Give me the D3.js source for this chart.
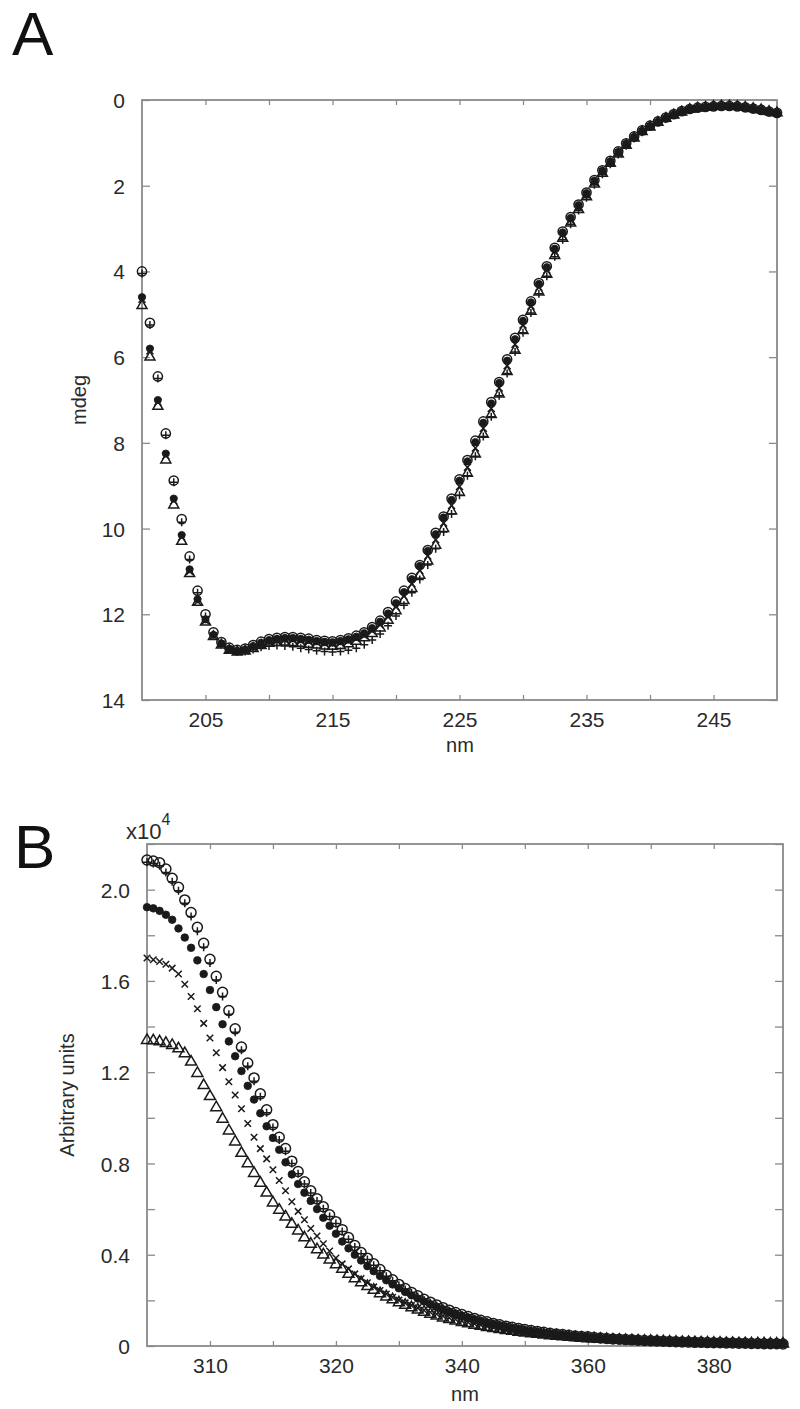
<!DOCTYPE html>
<html>
<head>
<meta charset="utf-8">
<script src="https://cdn.jsdelivr.net/npm/d3@7"></script>
<style>
  body { margin: 0; background: #fff; }
  svg { display: block; font-family: "Liberation Sans", Arial, Helvetica, sans-serif; }
</style>
</head>
<body>
<svg id="chart" width="800" height="1409"></svg>
<script>
// ---- Panel A: CD spectra (mdeg, axis drawn downwards) ----
const wlA = [200, 200.625, 201.25, 201.875, 202.5, 203.125, 203.75, 204.375, 205, 205.625,
  206.25, 206.875, 207.5, 208.125, 208.75, 209.375, 210, 210.625, 211.25, 211.875,
  212.5, 213.125, 213.75, 214.375, 215, 215.625, 216.25, 216.875, 217.5, 218.125,
  218.75, 219.375, 220, 220.625, 221.25, 221.875, 222.5, 223.125, 223.75, 224.375,
  225, 225.625, 226.25, 226.875, 227.5, 228.125, 228.75, 229.375, 230, 230.625,
  231.25, 231.875, 232.5, 233.125, 233.75, 234.375, 235, 235.625, 236.25, 236.875,
  237.5, 238.125, 238.75, 239.375, 240, 240.625, 241.25, 241.875, 242.5, 243.125,
  243.75, 244.375, 245, 245.625, 246.25, 246.875, 247.5, 248.125, 248.75, 249.375, 250];

const cdCircle = [4.0, 5.2, 6.45, 7.78, 8.88, 9.78, 10.65, 11.45, 12.0, 12.42,
  12.65, 12.78, 12.83, 12.8, 12.72, 12.64, 12.58, 12.55, 12.53, 12.53,
  12.55, 12.57, 12.6, 12.62, 12.63, 12.6, 12.56, 12.5, 12.42, 12.3,
  12.15, 11.95, 11.7, 11.45, 11.15, 10.85, 10.5, 10.1, 9.72, 9.3,
  8.85, 8.4, 7.95, 7.5, 7.05, 6.58, 6.05, 5.55, 5.13, 4.7,
  4.27, 3.88, 3.45, 3.07, 2.73, 2.44, 2.16, 1.87, 1.64, 1.42,
  1.2, 1.01, 0.85, 0.71, 0.6, 0.5, 0.41, 0.33, 0.26, 0.21,
  0.18, 0.16, 0.15, 0.14, 0.14, 0.15, 0.17, 0.2, 0.23, 0.27, 0.3];
const cdPlus = [4.05, 5.25, 6.5, 7.82, 8.92, 9.85, 10.72, 11.5, 12.05, 12.47,
  12.7, 12.82, 12.88, 12.87, 12.82, 12.77, 12.74, 12.73, 12.74, 12.76,
  12.79, 12.82, 12.85, 12.87, 12.88, 12.87, 12.84, 12.79, 12.71, 12.6,
  12.46, 12.27, 12.04, 11.79, 11.5, 11.19, 10.85, 10.47, 10.08, 9.66,
  9.22, 8.77, 8.31, 7.85, 7.39, 6.9, 6.38, 5.88, 5.43, 4.97,
  4.52, 4.11, 3.66, 3.26, 2.9, 2.58, 2.28, 1.98, 1.73, 1.5,
  1.27, 1.07, 0.9, 0.75, 0.63, 0.52, 0.43, 0.34, 0.27, 0.22,
  0.19, 0.17, 0.16, 0.15, 0.15, 0.16, 0.18, 0.21, 0.24, 0.28, 0.31];
const cdFilled = [4.6, 5.8, 7.0, 8.25, 9.3, 10.15, 10.95, 11.65, 12.12, 12.48,
  12.68, 12.8, 12.85, 12.82, 12.74, 12.66, 12.6, 12.57, 12.55, 12.55,
  12.57, 12.59, 12.62, 12.64, 12.65, 12.62, 12.58, 12.52, 12.44, 12.32,
  12.17, 11.98, 11.74, 11.48, 11.18, 10.87, 10.52, 10.13, 9.74, 9.33,
  8.88, 8.43, 7.98, 7.53, 7.08, 6.6, 6.08, 5.58, 5.15, 4.72,
  4.29, 3.9, 3.47, 3.09, 2.75, 2.45, 2.17, 1.88, 1.65, 1.43,
  1.21, 1.02, 0.86, 0.72, 0.61, 0.51, 0.42, 0.34, 0.27, 0.22,
  0.19, 0.17, 0.16, 0.15, 0.15, 0.16, 0.18, 0.21, 0.24, 0.28, 0.31];
const cdCross = [4.65, 5.85, 7.05, 8.3, 9.35, 10.2, 11.0, 11.7, 12.15, 12.5,
  12.7, 12.82, 12.87, 12.85, 12.78, 12.7, 12.65, 12.62, 12.6, 12.6,
  12.62, 12.64, 12.66, 12.68, 12.69, 12.67, 12.63, 12.57, 12.5, 12.39,
  12.25, 12.06, 11.83, 11.58, 11.29, 10.98, 10.64, 10.26, 9.87, 9.46,
  9.02, 8.57, 8.12, 7.66, 7.2, 6.72, 6.2, 5.7, 5.25, 4.81,
  4.37, 3.97, 3.54, 3.15, 2.8, 2.5, 2.21, 1.92, 1.68, 1.46,
  1.24, 1.04, 0.88, 0.73, 0.62, 0.52, 0.43, 0.35, 0.28, 0.22,
  0.19, 0.17, 0.16, 0.15, 0.15, 0.16, 0.18, 0.21, 0.24, 0.28, 0.31];
const cdTriangle = [4.8, 6.0, 7.15, 8.4, 9.45, 10.3, 11.05, 11.72, 12.18, 12.52,
  12.72, 12.84, 12.88, 12.86, 12.8, 12.73, 12.68, 12.66, 12.65, 12.66,
  12.68, 12.7, 12.72, 12.74, 12.75, 12.73, 12.69, 12.63, 12.55, 12.45,
  12.32, 12.14, 11.92, 11.68, 11.4, 11.09, 10.76, 10.39, 10.0, 9.59,
  9.16, 8.71, 8.26, 7.8, 7.34, 6.86, 6.34, 5.84, 5.38, 4.93,
  4.48, 4.07, 3.63, 3.23, 2.87, 2.56, 2.26, 1.96, 1.71, 1.48,
  1.26, 1.06, 0.89, 0.74, 0.63, 0.52, 0.43, 0.35, 0.28, 0.22,
  0.19, 0.17, 0.15, 0.14, 0.14, 0.15, 0.17, 0.2, 0.23, 0.27, 0.3];

const ticksXA = [205, 210, 215, 220, 225, 230, 235, 240, 245];
const labelsXA = [205, 215, 225, 235, 245];
const ticksYA = [0, 2, 4, 6, 8, 10, 12, 14];

// ---- Panel B: emission spectra (x10^4, arbitrary units) ----
const wlB = [305, 305.5, 306, 306.5, 307, 307.5, 308, 308.5, 309, 309.5,
  310, 310.5, 311, 311.5, 312, 312.5, 313, 313.5, 314, 314.5,
  315, 315.5, 316, 316.5, 317, 317.5, 318, 318.5, 319, 319.5, 320,
  321, 322, 323, 324, 325, 326, 327, 328, 329, 330,
  331, 332, 333, 334, 335, 336, 337, 338, 339, 340,
  341, 342, 343, 344, 345, 346, 347, 348, 349, 350,
  351, 352, 353, 354, 355, 356, 357, 358, 359, 360,
  361, 362, 363, 364, 365, 366, 367, 368, 369, 370,
  371, 372, 373, 374, 375, 376, 377, 378, 379, 380,
  381, 382, 383, 384, 385, 386, 387, 388, 389, 390, 391];

const flCircle = [2.13, 2.125, 2.118, 2.09, 2.05, 2.01, 1.955, 1.9, 1.835, 1.765,
  1.695, 1.62, 1.55, 1.47, 1.39, 1.31, 1.24, 1.175, 1.105, 1.035,
  0.97, 0.915, 0.865, 0.81, 0.765, 0.72, 0.68, 0.645, 0.61, 0.575,
  0.545, 0.51, 0.475, 0.44, 0.41, 0.385, 0.36, 0.335, 0.31, 0.29,
  0.27, 0.252, 0.235, 0.22, 0.205, 0.192, 0.18, 0.168, 0.157, 0.147,
  0.138, 0.129, 0.121, 0.113, 0.106, 0.099, 0.093, 0.087, 0.082, 0.077,
  0.072, 0.068, 0.064, 0.06, 0.056, 0.053, 0.05, 0.047, 0.044, 0.042,
  0.04, 0.037, 0.035, 0.033, 0.031, 0.03, 0.028, 0.027, 0.025, 0.024,
  0.023, 0.022, 0.021, 0.02, 0.019, 0.018, 0.017, 0.016, 0.016, 0.015,
  0.014, 0.014, 0.013, 0.013, 0.012, 0.012, 0.011, 0.011, 0.01, 0.01, 0.01, 0.009];
const flPlus = [2.12, 2.115, 2.105, 2.075, 2.035, 1.995, 1.94, 1.882, 1.818, 1.748,
  1.678, 1.604, 1.532, 1.454, 1.375, 1.296, 1.226, 1.16, 1.092, 1.022,
  0.958, 0.903, 0.853, 0.8, 0.755, 0.71, 0.671, 0.636, 0.601, 0.567,
  0.537, 0.502, 0.468, 0.434, 0.404, 0.379, 0.354, 0.33, 0.306, 0.286,
  0.266, 0.248, 0.232, 0.217, 0.202, 0.189, 0.177, 0.166, 0.155, 0.145,
  0.136, 0.127, 0.119, 0.112, 0.105, 0.098, 0.092, 0.086, 0.081, 0.076,
  0.071, 0.067, 0.063, 0.059, 0.055, 0.052, 0.049, 0.046, 0.044, 0.041,
  0.039, 0.037, 0.035, 0.033, 0.031, 0.029, 0.028, 0.026, 0.025, 0.024,
  0.023, 0.022, 0.021, 0.02, 0.019, 0.018, 0.017, 0.016, 0.015, 0.015,
  0.014, 0.013, 0.013, 0.012, 0.012, 0.011, 0.011, 0.01, 0.01, 0.01, 0.009, 0.009];
const flFilled = [1.923, 1.918, 1.907, 1.89, 1.868, 1.83, 1.79, 1.745, 1.69, 1.63,
  1.56, 1.485, 1.41, 1.335, 1.27, 1.205, 1.14, 1.08, 1.02, 0.963,
  0.912, 0.86, 0.805, 0.752, 0.71, 0.672, 0.636, 0.6, 0.562, 0.527,
  0.492, 0.458, 0.428, 0.4, 0.375, 0.35, 0.328, 0.307, 0.288, 0.27,
  0.253, 0.237, 0.222, 0.208, 0.195, 0.183, 0.172, 0.161, 0.151, 0.142,
  0.133, 0.125, 0.117, 0.11, 0.103, 0.097, 0.091, 0.085, 0.08, 0.075,
  0.07, 0.066, 0.062, 0.058, 0.055, 0.052, 0.049, 0.046, 0.043, 0.041,
  0.039, 0.036, 0.034, 0.032, 0.03, 0.029, 0.027, 0.026, 0.025, 0.023,
  0.022, 0.021, 0.02, 0.019, 0.018, 0.017, 0.017, 0.016, 0.015, 0.014,
  0.014, 0.013, 0.012, 0.012, 0.011, 0.011, 0.01, 0.01, 0.01, 0.009, 0.009, 0.009];
const flCross = [1.7, 1.693, 1.685, 1.673, 1.656, 1.63, 1.585, 1.532, 1.478, 1.414,
  1.35, 1.285, 1.22, 1.158, 1.1, 1.04, 0.975, 0.915, 0.865, 0.82,
  0.772, 0.725, 0.68, 0.632, 0.59, 0.553, 0.515, 0.482, 0.448, 0.416,
  0.386, 0.36, 0.338, 0.316, 0.296, 0.277, 0.259, 0.243, 0.228, 0.214,
  0.201, 0.189, 0.178, 0.167, 0.157, 0.148, 0.14, 0.132, 0.124, 0.117,
  0.11, 0.104, 0.098, 0.092, 0.087, 0.082, 0.077, 0.073, 0.069, 0.065,
  0.061, 0.058, 0.055, 0.052, 0.049, 0.046, 0.044, 0.042, 0.04, 0.038,
  0.036, 0.034, 0.032, 0.031, 0.029, 0.028, 0.026, 0.025, 0.024, 0.023,
  0.022, 0.021, 0.02, 0.019, 0.018, 0.017, 0.016, 0.016, 0.015, 0.014,
  0.014, 0.013, 0.013, 0.012, 0.012, 0.011, 0.011, 0.01, 0.01, 0.01, 0.009, 0.009];
const flTriangle = [1.34, 1.338, 1.334, 1.327, 1.318, 1.303, 1.282, 1.245, 1.195, 1.142,
  1.094, 1.045, 0.995, 0.943, 0.895, 0.845, 0.8, 0.757, 0.714, 0.671,
  0.628, 0.596, 0.566, 0.534, 0.505, 0.475, 0.447, 0.423, 0.4, 0.378,
  0.357, 0.337, 0.315, 0.296, 0.278, 0.261, 0.245, 0.23, 0.216, 0.203,
  0.19, 0.179, 0.168, 0.158, 0.149, 0.14, 0.132, 0.124, 0.117, 0.11,
  0.104, 0.098, 0.092, 0.087, 0.082, 0.077, 0.073, 0.069, 0.065, 0.061,
  0.058, 0.055, 0.052, 0.049, 0.046, 0.044, 0.041, 0.039, 0.037, 0.035,
  0.033, 0.032, 0.03, 0.029, 0.027, 0.026, 0.025, 0.024, 0.023, 0.022,
  0.021, 0.02, 0.019, 0.018, 0.017, 0.016, 0.016, 0.015, 0.014, 0.014,
  0.013, 0.013, 0.012, 0.012, 0.011, 0.011, 0.01, 0.01, 0.01, 0.009, 0.009, 0.009];

const ticksXB = [310, 315, 320, 330, 340, 350, 360, 370, 380];
const labelsXB = [310, 320, 340, 360, 380];
const ticksYB = [0, 0.2, 0.4, 0.6, 0.8, 1.0, 1.2, 1.4, 1.6, 1.8, 2.0, 2.2];
const labelsYB = [0, 0.4, 0.8, 1.2, 1.6, 2.0];

const svg = d3.select("#chart");
const ink = "#1a1a1a";
const axisGrey = "#8a8a8a";
const textCol = "#2a2a2a";

// shapes of the markers, drawn around 0,0
function markerPath(shape, s) {
    if (shape === "triangle") {
        const h = s * 0.866;
        return `M0,${-h * 2 / 3}L${s / 2},${h / 3}L${-s / 2},${h / 3}Z`;
    }
    if (shape === "cross") {
        return `M${-s / 2},${-s / 2}L${s / 2},${s / 2}M${-s / 2},${s / 2}L${s / 2},${-s / 2}`;
    }
    return `M${-s / 2},0H${s / 2}M0,${-s / 2}V${s / 2}`; // plus
}

function drawSeries(g, xs, ys, x, y, shape, size) {
    const pts = xs.slice(0, ys.length).map((w, i) => [w, ys[i]]);
    const sel = g.append("g").selectAll("*").data(pts);
    if (shape === "circle" || shape === "filled") {
        sel.enter().append("circle")
            .attr("cx", d => x(d[0]))
            .attr("cy", d => y(d[1]))
            .attr("r", size)
            .attr("fill", shape === "filled" ? ink : "none")
            .attr("stroke", ink)
            .attr("stroke-width", shape === "filled" ? 0.8 : 1.5);
    } else {
        sel.enter().append("path")
            .attr("transform", d => `translate(${x(d[0])},${y(d[1])})`)
            .attr("d", markerPath(shape, size))
            .attr("fill", "none")
            .attr("stroke", ink)
            .attr("stroke-width", 1.5);
    }
}

function frame(g, x, y, opts) {
    const xr = x.range();
    const x0 = xr[0], x1 = xr[xr.length - 1];
    const [yA, yB] = y.range();
    const top = Math.min(yA, yB), bottom = Math.max(yA, yB);

    const fmtX = d => opts.xLabels.includes(d) ? d : "";
    const fmtY = d => opts.yLabels.includes(d) ? opts.yFmt(d) : "";

    g.append("g").attr("transform", `translate(0,${bottom})`)
        .call(d3.axisBottom(x).tickValues(opts.xTicks).tickFormat(fmtX).tickSize(-5).tickPadding(12));
    g.append("g").attr("transform", `translate(0,${top})`)
        .call(d3.axisTop(x).tickValues(opts.xTicks).tickFormat("").tickSize(-5));
    const leftAxis = g.append("g").attr("transform", `translate(${x0},0)`)
        .call(d3.axisLeft(y).tickValues(opts.yTicks).tickFormat(fmtY).tickSize(-8).tickPadding(17));
    g.append("g").attr("transform", `translate(${x1},0)`)
        .call(d3.axisRight(y).tickValues(opts.yTicks).tickFormat("").tickSize(-8));

    g.selectAll(".domain").remove();
    g.selectAll(".tick line").attr("stroke", axisGrey).attr("stroke-width", 1.3);
    g.selectAll(".tick text").attr("fill", textCol).style("font-size", "21px");
    leftAxis.selectAll(".tick text").attr("dy", "0.36em");

    g.append("rect")
        .attr("x", x0).attr("y", top)
        .attr("width", x1 - x0).attr("height", bottom - top)
        .attr("fill", "none")
        .attr("stroke", axisGrey)
        .attr("stroke-width", 1.8);
}

// ---------- Panel A ----------
const xA = d3.scaleLinear().domain([200, 250]).range([142, 777]);
const yA = d3.scaleLinear().domain([0, 14]).range([100, 700]);
const gA = svg.append("g");

frame(gA, xA, yA, {
    xTicks: ticksXA, xLabels: labelsXA,
    yTicks: ticksYA, yLabels: ticksYA, yFmt: d => d
});

const marksA = gA.append("g");
drawSeries(marksA, wlA, cdTriangle, xA, yA, "triangle", 10);
drawSeries(marksA, wlA, cdCross, xA, yA, "cross", 7);
drawSeries(marksA, wlA, cdPlus, xA, yA, "plus", 8);
drawSeries(marksA, wlA, cdFilled, xA, yA, "filled", 3.6);
drawSeries(marksA, wlA, cdCircle, xA, yA, "circle", 4.6);

gA.append("text").attr("x", 12).attr("y", 55)
    .style("font-size", "62px").attr("fill", "#111").text("A");
gA.append("text").attr("x", 460).attr("y", 752)
    .attr("text-anchor", "middle").style("font-size", "20px").attr("fill", textCol).text("nm");
gA.append("text")
    .attr("transform", "translate(86,400) rotate(-90)")
    .attr("text-anchor", "middle").style("font-size", "20px").attr("fill", textCol).text("mdeg");

// ---------- Panel B ----------
const leftB = 147, rightB = 783;
const stepB = (rightB - leftB) / (wlB.length - 1);
// 0.5 nm steps up to 320 nm, 1 nm steps after: the points sit evenly, so the axis is piecewise
const xB = d3.scaleLinear().domain([305, 320, 391]).range([leftB, leftB + 30 * stepB, rightB]);
const yB = d3.scaleLinear().domain([0, 2.2]).range([1346, 844]);
const gB = svg.append("g");

frame(gB, xB, yB, {
    xTicks: ticksXB, xLabels: labelsXB,
    yTicks: ticksYB, yLabels: labelsYB, yFmt: d => d === 0 ? "0" : d.toFixed(1)
});

const marksB = gB.append("g");
drawSeries(marksB, wlB, flTriangle, xB, yB, "triangle", 11);
drawSeries(marksB, wlB, flCross, xB, yB, "cross", 6.5);
drawSeries(marksB, wlB, flPlus, xB, yB, "plus", 8);
drawSeries(marksB, wlB, flFilled, xB, yB, "filled", 3.8);
drawSeries(marksB, wlB, flCircle, xB, yB, "circle", 5);

gB.append("text").attr("x", 14).attr("y", 868)
    .style("font-size", "62px").attr("fill", "#111").text("B");
const sci = gB.append("text").attr("x", 126).attr("y", 839)
    .style("font-size", "22px").attr("fill", textCol);
sci.append("tspan").text("x10");
sci.append("tspan").attr("dy", -14).style("font-size", "16px").text("4");
gB.append("text").attr("x", 465).attr("y", 1401)
    .attr("text-anchor", "middle").style("font-size", "20px").attr("fill", textCol).text("nm");
gB.append("text")
    .attr("transform", "translate(74,1095) rotate(-90)")
    .attr("text-anchor", "middle").style("font-size", "20px").attr("fill", textCol).text("Arbitrary units");
</script>
</body>
</html>
